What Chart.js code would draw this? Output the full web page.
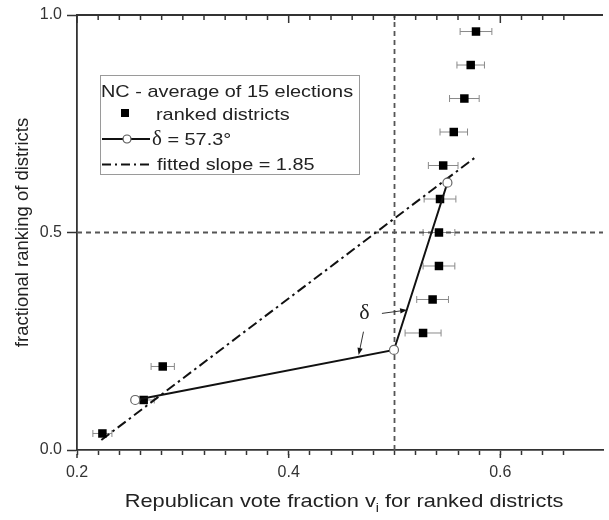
<!DOCTYPE html>
<html><head><meta charset="utf-8">
<script src="https://cdn.jsdelivr.net/npm/chart.js@4.4.1/dist/chart.umd.min.js"></script>
<style>html,body{margin:0;padding:0;background:#fff;}canvas{display:block;}</style>
</head><body>
<canvas id="c" width="609" height="520"></canvas>
<script>
// ---- data ----
const districtVote = [0.224, 0.263, 0.281, 0.527, 0.536, 0.542, 0.542, 0.543, 0.546, 0.556, 0.566, 0.572, 0.577];
const districtRank = [0.038, 0.115, 0.192, 0.269, 0.346, 0.423, 0.500, 0.577, 0.654, 0.731, 0.808, 0.885, 0.962];
const districtErr  = [0.009, 0.010, 0.011, 0.017, 0.015, 0.015, 0.015, 0.015, 0.014, 0.013, 0.014, 0.013, 0.015];
const deltaVote = [0.255, 0.4995, 0.550];
const deltaRank = [0.115, 0.230, 0.6145];
const fitVote = [0.223, 0.577];
const fitRank = [0.023, 0.674];
const refVote = 0.5;
const refRank = 0.5;
const xRange = [0.2, 0.697];
const yRange = [0.0, 1.0];
const xTickValues = [0.2, 0.4, 0.6];
const xTickLabels = ['0.2', '0.4', '0.6'];
const yTickValues = [0.0, 0.5, 1.0];
const yTickLabels = ['0.0', '0.5', '1.0'];
const legendTitle = 'NC - average of 15 elections';
const seriesNames = ['ranked districts', 'δ', ' = 57.3°', 'fitted slope = 1.85'];
const yTitle = 'fractional ranking of districts';
const xTitleParts = ['Republican vote fraction v', 'i', ' for ranked districts'];
const deltaLabel = 'δ';
const deltaLabelAt = [0.4717, 0.314];
const arrowFrom = [[0.4881, 0.314], [0.4707, 0.272]];
const arrowTo   = [[0.5119, 0.3218], [0.4661, 0.2184]];

const SANS = '"Liberation Sans", Arial, sans-serif';
const SERIF = '"Liberation Serif", "Times New Roman", serif';
const SX = 1.17; // horizontal stretch of text in the reference

function stext(ctx, str, x, y, font, s) {
  ctx.save();
  ctx.font = font;
  const w = ctx.measureText(str).width * s;
  ctx.translate(x, y);
  ctx.scale(s, 1);
  ctx.fillText(str, 0, 0);
  ctx.restore();
  return w;
}
function measure(ctx, str, font, s) {
  ctx.save(); ctx.font = font; const w = ctx.measureText(str).width * s; ctx.restore(); return w;
}
function arrow(ctx, x0, y0, x1, y1) {
  const a = Math.atan2(y1 - y0, x1 - x0), L = 7, H = 2.6;
  ctx.beginPath(); ctx.moveTo(x0, y0); ctx.lineTo(x1 - L * Math.cos(a), y1 - L * Math.sin(a)); ctx.stroke();
  ctx.beginPath();
  ctx.moveTo(x1, y1);
  ctx.lineTo(x1 - L * Math.cos(a) + H * Math.sin(a), y1 - L * Math.sin(a) - H * Math.cos(a));
  ctx.lineTo(x1 - L * Math.cos(a) - H * Math.sin(a), y1 - L * Math.sin(a) + H * Math.cos(a));
  ctx.closePath(); ctx.fill();
}
const near = (a, b) => Math.abs(a - b) < 1e-6;

const decor = {
  id: 'decor',
  beforeDatasetsDraw(chart) {
    const ctx = chart.ctx, xs = chart.scales.x, ys = chart.scales.y;
    ctx.save();
    ctx.strokeStyle = '#8a8a8a'; ctx.lineWidth = 1;
    districtVote.forEach((v, i) => {
      const a = xs.getPixelForValue(v - districtErr[i]);
      const b = xs.getPixelForValue(v + districtErr[i]);
      const y = ys.getPixelForValue(districtRank[i]);
      ctx.beginPath();
      ctx.moveTo(a, y); ctx.lineTo(b, y);
      ctx.moveTo(a, y - 3.5); ctx.lineTo(a, y + 3.5);
      ctx.moveTo(b, y - 3.5); ctx.lineTo(b, y + 3.5);
      ctx.stroke();
    });
    ctx.restore();
  },
  afterDraw(chart) {
    const ctx = chart.ctx, xs = chart.scales.x, ys = chart.scales.y, ca = chart.chartArea;
    ctx.save();
    // top frame with inward ticks, major tick extension at bottom
    ctx.strokeStyle = '#333'; ctx.lineWidth = 1.8;
    ctx.beginPath(); ctx.moveTo(ca.left - 0.9, ca.top); ctx.lineTo(ca.right, ca.top); ctx.stroke();
    ctx.lineWidth = 1.5;
    xs.ticks.forEach(t => {
      const px = xs.getPixelForValue(t.value);
      const major = xTickValues.some(v => near(v, t.value));
      ctx.beginPath(); ctx.moveTo(px, ca.top); ctx.lineTo(px, ca.top + (major ? 8 : 5)); ctx.stroke();
      if (major) { ctx.beginPath(); ctx.moveTo(px, ca.bottom + 4); ctx.lineTo(px, ca.bottom + 8); ctx.stroke(); }
    });
    // legend
    ctx.fillStyle = '#fff'; ctx.fillRect(100.5, 75.5, 259, 99);
    ctx.strokeStyle = '#9a9a9a'; ctx.lineWidth = 1; ctx.strokeRect(100.5, 75.5, 259, 99);
    ctx.fillStyle = '#222'; ctx.textBaseline = 'alphabetic'; ctx.textAlign = 'left';
    const lf = '17px ' + SANS;
    stext(ctx, legendTitle, 101, 96.5, lf, SX);
    ctx.fillStyle = '#000'; ctx.fillRect(121, 109, 8, 8);
    ctx.fillStyle = '#222';
    stext(ctx, seriesNames[0], 156, 119.5, lf, SX);
    ctx.strokeStyle = '#111'; ctx.lineWidth = 2;
    ctx.beginPath(); ctx.moveTo(102, 139); ctx.lineTo(150, 139); ctx.stroke();
    ctx.fillStyle = '#fff'; ctx.strokeStyle = '#555'; ctx.lineWidth = 1.2;
    ctx.beginPath(); ctx.arc(127, 139, 4, 0, Math.PI * 2); ctx.fill(); ctx.stroke();
    ctx.fillStyle = '#222';
    const dw = stext(ctx, seriesNames[1], 152, 145, '20px ' + SERIF, 1.05);
    stext(ctx, seriesNames[2], 152 + dw, 145, lf, SX);
    ctx.strokeStyle = '#111'; ctx.lineWidth = 2; ctx.setLineDash([9, 4, 2, 4]);
    ctx.beginPath(); ctx.moveTo(102, 164.5); ctx.lineTo(152, 164.5); ctx.stroke();
    ctx.setLineDash([]);
    stext(ctx, seriesNames[3], 157, 170, lf, SX);
    // x axis title with subscript
    const tf = '18.5px ' + SANS, sf = '12px ' + SANS;
    const w0 = measure(ctx, xTitleParts[0], tf, 1.18), w1 = measure(ctx, xTitleParts[1], sf, 1.18), w2 = measure(ctx, xTitleParts[2], tf, 1.18);
    let x0 = 344 - (w0 + w1 + w2) / 2;
    ctx.fillStyle = '#222';
    x0 += stext(ctx, xTitleParts[0], x0, 506.5, tf, 1.18);
    x0 += stext(ctx, xTitleParts[1], x0, 511.5, sf, 1.18);
    stext(ctx, xTitleParts[2], x0, 506.5, tf, 1.18);
    // delta annotation
    ctx.textAlign = 'center'; ctx.textBaseline = 'middle';
    ctx.font = '22px ' + SERIF;
    ctx.fillText(deltaLabel, xs.getPixelForValue(deltaLabelAt[0]), ys.getPixelForValue(deltaLabelAt[1]));
    ctx.strokeStyle = '#333'; ctx.fillStyle = '#111'; ctx.lineWidth = 1;
    arrowFrom.forEach((f, i) => {
      arrow(ctx, xs.getPixelForValue(f[0]), ys.getPixelForValue(f[1]),
                 xs.getPixelForValue(arrowTo[i][0]), ys.getPixelForValue(arrowTo[i][1]));
    });
    ctx.restore();
  }
};

new Chart(document.getElementById('c'), {
  type: 'scatter',
  data: {
    datasets: [
      {
        label: seriesNames[0],
        data: districtVote.map((v, i) => ({ x: v, y: districtRank[i] })),
        pointStyle: 'rect', pointRadius: 6, pointHoverRadius: 6,
        backgroundColor: '#000', borderColor: '#000', borderWidth: 0,
        showLine: false, order: 2
      },
      {
        label: 'delta',
        data: deltaVote.map((v, i) => ({ x: v, y: deltaRank[i] })),
        showLine: true, borderColor: '#111', borderWidth: 2,
        pointStyle: 'circle', pointRadius: 4.5, pointBackgroundColor: '#fff',
        pointBorderColor: '#666', pointBorderWidth: 1.2, order: 1
      },
      {
        label: seriesNames[3],
        data: fitVote.map((v, i) => ({ x: v, y: fitRank[i] })),
        showLine: true, borderColor: '#111', borderWidth: 2, borderDash: [10, 4, 2.5, 4],
        pointRadius: 0, order: 3
      },
      {
        label: 'vref',
        data: [{ x: refVote, y: yRange[0] }, { x: refVote, y: yRange[1] }],
        showLine: true, borderColor: '#555', borderWidth: 1.8, borderDash: [5, 4],
        pointRadius: 0, order: 4
      },
      {
        label: 'href',
        data: [{ x: xRange[0], y: refRank }, { x: xRange[1], y: refRank }],
        showLine: true, borderColor: '#555', borderWidth: 1.8, borderDash: [5, 4],
        pointRadius: 0, order: 4
      }
    ]
  },
  options: {
    responsive: false, animation: false, devicePixelRatio: 1,
    layout: { padding: { top: 15, left: 0, right: 0, bottom: 0 } },
    plugins: { legend: { display: false }, tooltip: { enabled: false } },
    scales: {
      x: {
        type: 'linear', position: 'bottom', min: xRange[0], max: xRange[1],
        afterBuildTicks: s => { s.ticks = s.ticks.filter(t => near(t.value / 0.02, Math.round(t.value / 0.02))); },
        afterFit: s => { s.height = 70; },
        ticks: {
          stepSize: 0.02, autoSkip: false, maxRotation: 0, minRotation: 0, padding: 8,
          color: '#333', font: { family: SANS, size: 16 },
          callback: v => { const k = xTickValues.findIndex(t => near(t, v)); return k >= 0 ? xTickLabels[k] : ''; }
        },
        grid: { drawOnChartArea: false, drawTicks: true, tickLength: 5, tickColor: '#333', tickWidth: 1.5 },
        border: { display: true, color: '#333', width: 1.8 }
      },
      y: {
        type: 'linear', position: 'left', min: yRange[0], max: yRange[1],
        afterFit: s => { s.width = 77; },
        ticks: {
          stepSize: 0.5, padding: 5, color: '#333', font: { family: SANS, size: 16 },
          callback: v => { const k = yTickValues.findIndex(t => near(t, v)); return k >= 0 ? yTickLabels[k] : ''; }
        },
        grid: { drawOnChartArea: false, drawTicks: true, tickLength: 10, tickColor: '#333', tickWidth: 1.5 },
        border: { display: true, color: '#333', width: 1.8 },
        title: { display: true, text: yTitle, color: '#222', font: { family: SANS, size: 18.5 }, padding: { top: 12, bottom: 0 } }
      }
    }
  },
  plugins: [decor]
});
</script>
</body></html>
